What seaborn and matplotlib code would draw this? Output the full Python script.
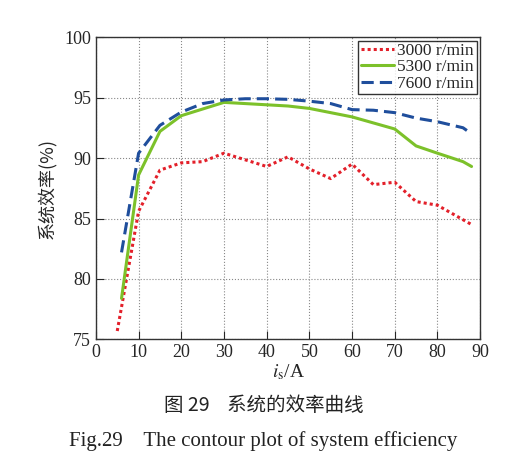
import numpy as np
import pandas as pd
import matplotlib
matplotlib.use("Agg")
import matplotlib.pyplot as plt
import seaborn as sns

# current (A) and efficiency (%)
x_3000 = [5, 10, 15, 20, 25, 30, 40, 45, 50, 55, 60, 65, 70, 75, 80, 88]
y_3000 = [75.7, 85.6, 89.0, 89.6, 89.7, 90.4, 89.3, 90.1, 89.1, 88.3, 89.5, 87.8, 88.0, 86.4, 86.1, 84.5]

x_5300 = [6, 10, 15, 20, 30, 40, 45, 50, 55, 60, 70, 75, 80, 86, 88]
y_5300 = [78.4, 88.6, 92.2, 93.5, 94.6, 94.4, 94.3, 94.1, 93.75, 93.4, 92.4, 91.0, 90.4, 89.7, 89.3]

x_7600 = [6, 10, 15, 20, 25, 30, 35, 40, 45, 50, 55, 60, 65, 70, 75, 80, 86, 88]
y_7600 = [82.2, 90.4, 92.7, 93.8, 94.5, 94.8, 94.9, 94.9, 94.85, 94.7, 94.5, 94.0, 93.95, 93.75, 93.3, 93.0, 92.5, 92.0]

labels = ["3000 r/min", "5300 r/min", "7600 r/min"]
colors = ["#e3202a", "#7cc12a", "#1f4e9c"]

df = pd.concat([
    pd.DataFrame({"i": x_3000, "eff": y_3000, "speed": labels[0]}),
    pd.DataFrame({"i": x_5300, "eff": y_5300, "speed": labels[1]}),
    pd.DataFrame({"i": x_7600, "eff": y_7600, "speed": labels[2]}),
])

sns.set_style("ticks")
plt.rcParams["font.family"] = ["Liberation Serif", "Noto Sans CJK SC"]
plt.rcParams["mathtext.fontset"] = "stix"

fig = plt.figure(figsize=(5.27, 4.66), dpi=100)
ax = fig.add_axes([0.182, 0.2715, 0.729, 0.649])

styles = {labels[0]: (0, (1, 1)), labels[1]: "-", labels[2]: (0, (4, 2))}
for lab, col in zip(labels, colors):
    sub = df[df["speed"] == lab]
    sns.lineplot(data=sub, x="i", y="eff", ax=ax, color=col, linewidth=2.2,
                 linestyle=styles[lab], label=lab, sort=False)

ax.set_xlim(0, 90)
ax.set_ylim(75, 100)
ax.set_xticks(np.arange(0, 91, 10))
ax.set_yticks(np.arange(75, 101, 5))
ax.grid(True, linestyle=":", color="#888888", linewidth=0.8)
ax.tick_params(direction="in", length=6, labelsize=13, top=False, right=False)
for s in ax.spines.values():
    s.set_color("#333333")
    s.set_linewidth(1.0)

ax.set_xlabel(r"$i_{\mathrm{s}}$/A", fontsize=14, labelpad=1)
ax.set_ylabel("系统效率(%)", fontsize=13, labelpad=6,
              family=["Noto Sans CJK SC", "DejaVu Sans"])

leg = ax.legend(loc="upper right", fontsize=12.5, frameon=True, fancybox=False,
                handlelength=1.9, handletextpad=0.2, borderpad=0.15,
                labelspacing=0.0, borderaxespad=0.2)
leg.get_frame().set_edgecolor("black")
leg.get_frame().set_linewidth(1.0)

fig.text(0.5, 0.118, "图 29    系统的效率曲线", ha="center", fontsize=14,
         family=["Noto Sans CJK SC", "DejaVu Sans"], color="#222222")
fig.text(0.5, 0.042, "Fig.29    The contour plot of system efficiency", ha="center",
         fontsize=15, color="#222222")

fig.savefig("out.png", dpi=100)
